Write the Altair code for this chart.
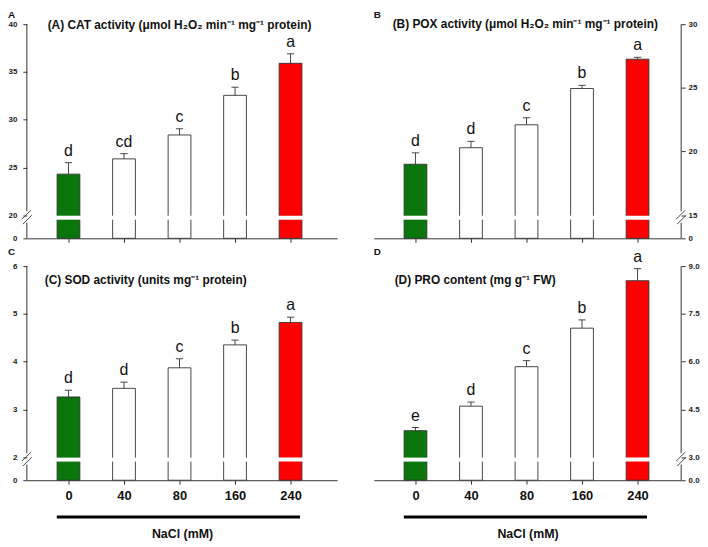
import altair as alt
import pandas as pd

FONT = "Liberation Sans"

doses = ["0", "40", "80", "160", "240"]
bar_colors = ["#0b760b", "#ffffff", "#ffffff", "#ffffff", "#ff0000"]

# (A) CAT
cat_vals = [24.3, 25.9, 28.4, 32.55, 35.9]
cat_err = [25.5, 26.45, 29.05, 33.4, 36.9]
cat_letters = ["d", "cd", "c", "b", "a"]
cat_ticks = [20, 25, 30, 35, 40]

# (B) POX
pox_vals = [19.0, 20.3, 22.1, 24.95, 27.25]
pox_err = [19.9, 20.8, 22.65, 25.2, 27.4]
pox_letters = ["d", "d", "c", "b", "a"]
pox_ticks = [15, 20, 25, 30]

# (C) SOD
sod_vals = [3.26, 3.44, 3.87, 4.35, 4.82]
sod_err = [3.40, 3.57, 4.06, 4.45, 4.93]
sod_letters = ["d", "d", "c", "b", "a"]
sod_ticks = [2, 3, 4, 5, 6]

# (D) PRO
pro_vals = [3.83, 4.60, 5.84, 7.05, 8.54]
pro_err = [3.93, 4.73, 6.03, 7.31, 8.92]
pro_letters = ["e", "d", "c", "b", "a"]
pro_ticks = [3.0, 4.5, 6.0, 7.5, 9.0]

titles = [
    "(A) CAT activity (\u03bcmol H\u2082O\u2082 min\u207b\u00b9 mg\u207b\u00b9 protein)",
    "(B) POX activity (\u03bcmol H\u2082O\u2082 min\u207b\u00b9 mg\u207b\u00b9 protein)",
    "(C) SOD activity (units mg\u207b\u00b9 protein)",
    "(D) PRO content (mg g\u207b\u00b9 FW)",
]

AX = "#333333"
STEP = 56.0
FIRST = 42.0
BREAK_PX = 23.3


def panel(vals, errs, letters, ticks, fmt, zero_lab, orient, title, tpos,
          letter, lpos, bottom, W, H=216):
    brk, top = ticks[0], ticks[-1]
    ppu = (H - BREAK_PX) / (top - brk)
    lo = brk - BREAK_PX / ppu
    xmin = -FIRST / STEP
    xmax = (W - FIRST) / STEP
    xs = alt.Scale(domain=[xmin, xmax], nice=False, zero=False)
    ys = alt.Scale(domain=[lo, top], nice=False, zero=False)
    idx = list(range(len(vals)))
    df = pd.DataFrame({
        "idx": idx,
        "dose": doses,
        "val": vals,
        "err": errs,
        "let": letters,
        "col": bar_colors,
    })
    df["x1"] = df["idx"] - 0.205
    df["x2"] = df["idx"] + 0.205
    df["gx1"] = df["idx"] - 0.23
    df["gx2"] = df["idx"] + 0.23
    df["cx1"] = df["idx"] - 0.065
    df["cx2"] = df["idx"] + 0.065
    df["base"] = lo
    df["g1"] = brk - 4.5 / ppu
    df["g2"] = brk - 0.5 / ppu

    tick_vals = [lo] + list(ticks)
    label_expr = (f"datum.value < {brk - 1e-6} ? '{zero_lab}' : "
                  f"format(datum.value, '{fmt}')")
    yaxis = alt.Axis(orient=orient, values=tick_vals, labelExpr=label_expr,
                     domain=False, grid=False, tickSize=4, tickColor=AX,
                     labelPadding=6 if orient == "left" else 3,
                     labelFont=FONT, labelFontSize=8, labelFontWeight="bold",
                     labelColor="#222222", title=None)
    xaxis = alt.Axis(values=idx,
                     labelExpr="['0','40','80','160','240'][datum.value]",
                     labels=bottom, grid=False, tickSize=4, tickColor=AX,
                     domainColor=AX, labelPadding=5, labelFont=FONT,
                     labelFontSize=13, labelFontWeight="bold",
                     labelColor="#111111",
                     title="NaCl (mM)" if bottom else None,
                     titleFont=FONT, titleFontSize=12.5, titleFontWeight="bold",
                     titleColor="#111111", titlePadding=26)

    def X(f):
        return alt.X(f, scale=xs, axis=xaxis)

    def Y(f):
        return alt.Y(f, scale=ys, axis=yaxis)

    base = alt.Chart(df)
    bars = base.mark_bar(stroke=AX, strokeWidth=0.9).encode(
        x=X("x1:Q"), x2="x2:Q", y=Y("base:Q"), y2="val:Q",
        fill=alt.Fill("col:N", scale=None))
    gaps = base.mark_rect(fill="white").encode(
        x=X("gx1:Q"), x2="gx2:Q", y=Y("g1:Q"), y2="g2:Q")
    ebar = base.mark_rule(color=AX, strokeWidth=0.9).encode(
        x=X("idx:Q"), y=Y("val:Q"), y2="err:Q")
    caps = base.mark_rule(color=AX, strokeWidth=0.9).encode(
        x=X("cx1:Q"), x2="cx2:Q", y=Y("err:Q"))
    lets = base.mark_text(font=FONT, fontSize=16, baseline="alphabetic",
                          dy=-7, color="#111111").encode(
        x=X("idx:Q"), y=Y("err:Q"), text="let:N")

    # manual broken y axis line
    xa = xmin if orient == "left" else xmax
    seg = pd.DataFrame({
        "x": [xa, xa],
        "y": [lo, brk + 4 / ppu],
        "y2": [brk - 7.5 / ppu, top],
    })
    axline = alt.Chart(seg).mark_rule(color=AX, strokeWidth=1).encode(
        x=X("x:Q"), y=Y("y:Q"), y2="y2:Q")
    # break marks "//"
    dxs = [(-5, 4), (-4, 5)]
    dys = [(4, -5), (9, 0)]
    brk_df = pd.DataFrame({
        "x": [xa + a[0] / STEP for a in dxs],
        "x2": [xa + a[1] / STEP for a in dxs],
        "y": [brk - b[0] / ppu for b in dys],
        "y2": [brk - b[1] / ppu for b in dys],
    })
    brkmarks = alt.Chart(brk_df).mark_rule(color=AX, strokeWidth=0.9).encode(
        x=X("x:Q"), x2="x2:Q", y=Y("y:Q"), y2="y2:Q")

    ttl = alt.Chart(pd.DataFrame({"t": [title]})).mark_text(
        font=FONT, fontSize=12, fontWeight="bold", align="left",
        baseline="alphabetic", color="#111111").encode(
        x=alt.value(tpos[0]), y=alt.value(tpos[1]), text="t:N")
    plet = alt.Chart(pd.DataFrame({"t": [letter]})).mark_text(
        font=FONT, fontSize=10, fontWeight="bold", align="left",
        baseline="top", color="#111111").encode(
        x=alt.value(lpos[0]), y=alt.value(lpos[1]), text="t:N")

    layers = [bars, gaps, ebar, caps, lets, axline, brkmarks, ttl, plet]
    if bottom:
        ldf = pd.DataFrame({"x": [-0.21], "x2": [4.17]})
        thick = alt.Chart(ldf).mark_rule(color="#000000", strokeWidth=3).encode(
            x=X("x:Q"), x2="x2:Q", y=alt.value(H + 37))
        layers.append(thick)
    return alt.layer(*layers).properties(width=W, height=216)


pA = panel(cat_vals, cat_err, cat_letters, cat_ticks, "d", "0", "left",
           titles[0], (21, 5), "A", (-19, -14), False, 313)
pB = panel(pox_vals, pox_err, pox_letters, pox_ticks, "d", "0", "right",
           titles[1], (19, 4), "B", (0, -14), False, 310)
pC = panel(sod_vals, sod_err, sod_letters, sod_ticks, "d", "0", "left",
           titles[2], (18, 18), "C", (-19, -19), True, 313)
pD = panel(pro_vals, pro_err, pro_letters, pro_ticks, ".1f", "0.0", "right",
           titles[3], (21, 18), "D", (0, -19), True, 310)

row1 = alt.hconcat(pA, pB, spacing=37)
row2 = alt.hconcat(pC, pD, spacing=37)
chart = alt.vconcat(row1, row2, spacing=4).properties(
    padding=0, background="white"
).configure_view(stroke=None)

chart.save("out.html", embed_options={"renderer": "svg", "actions": False})
